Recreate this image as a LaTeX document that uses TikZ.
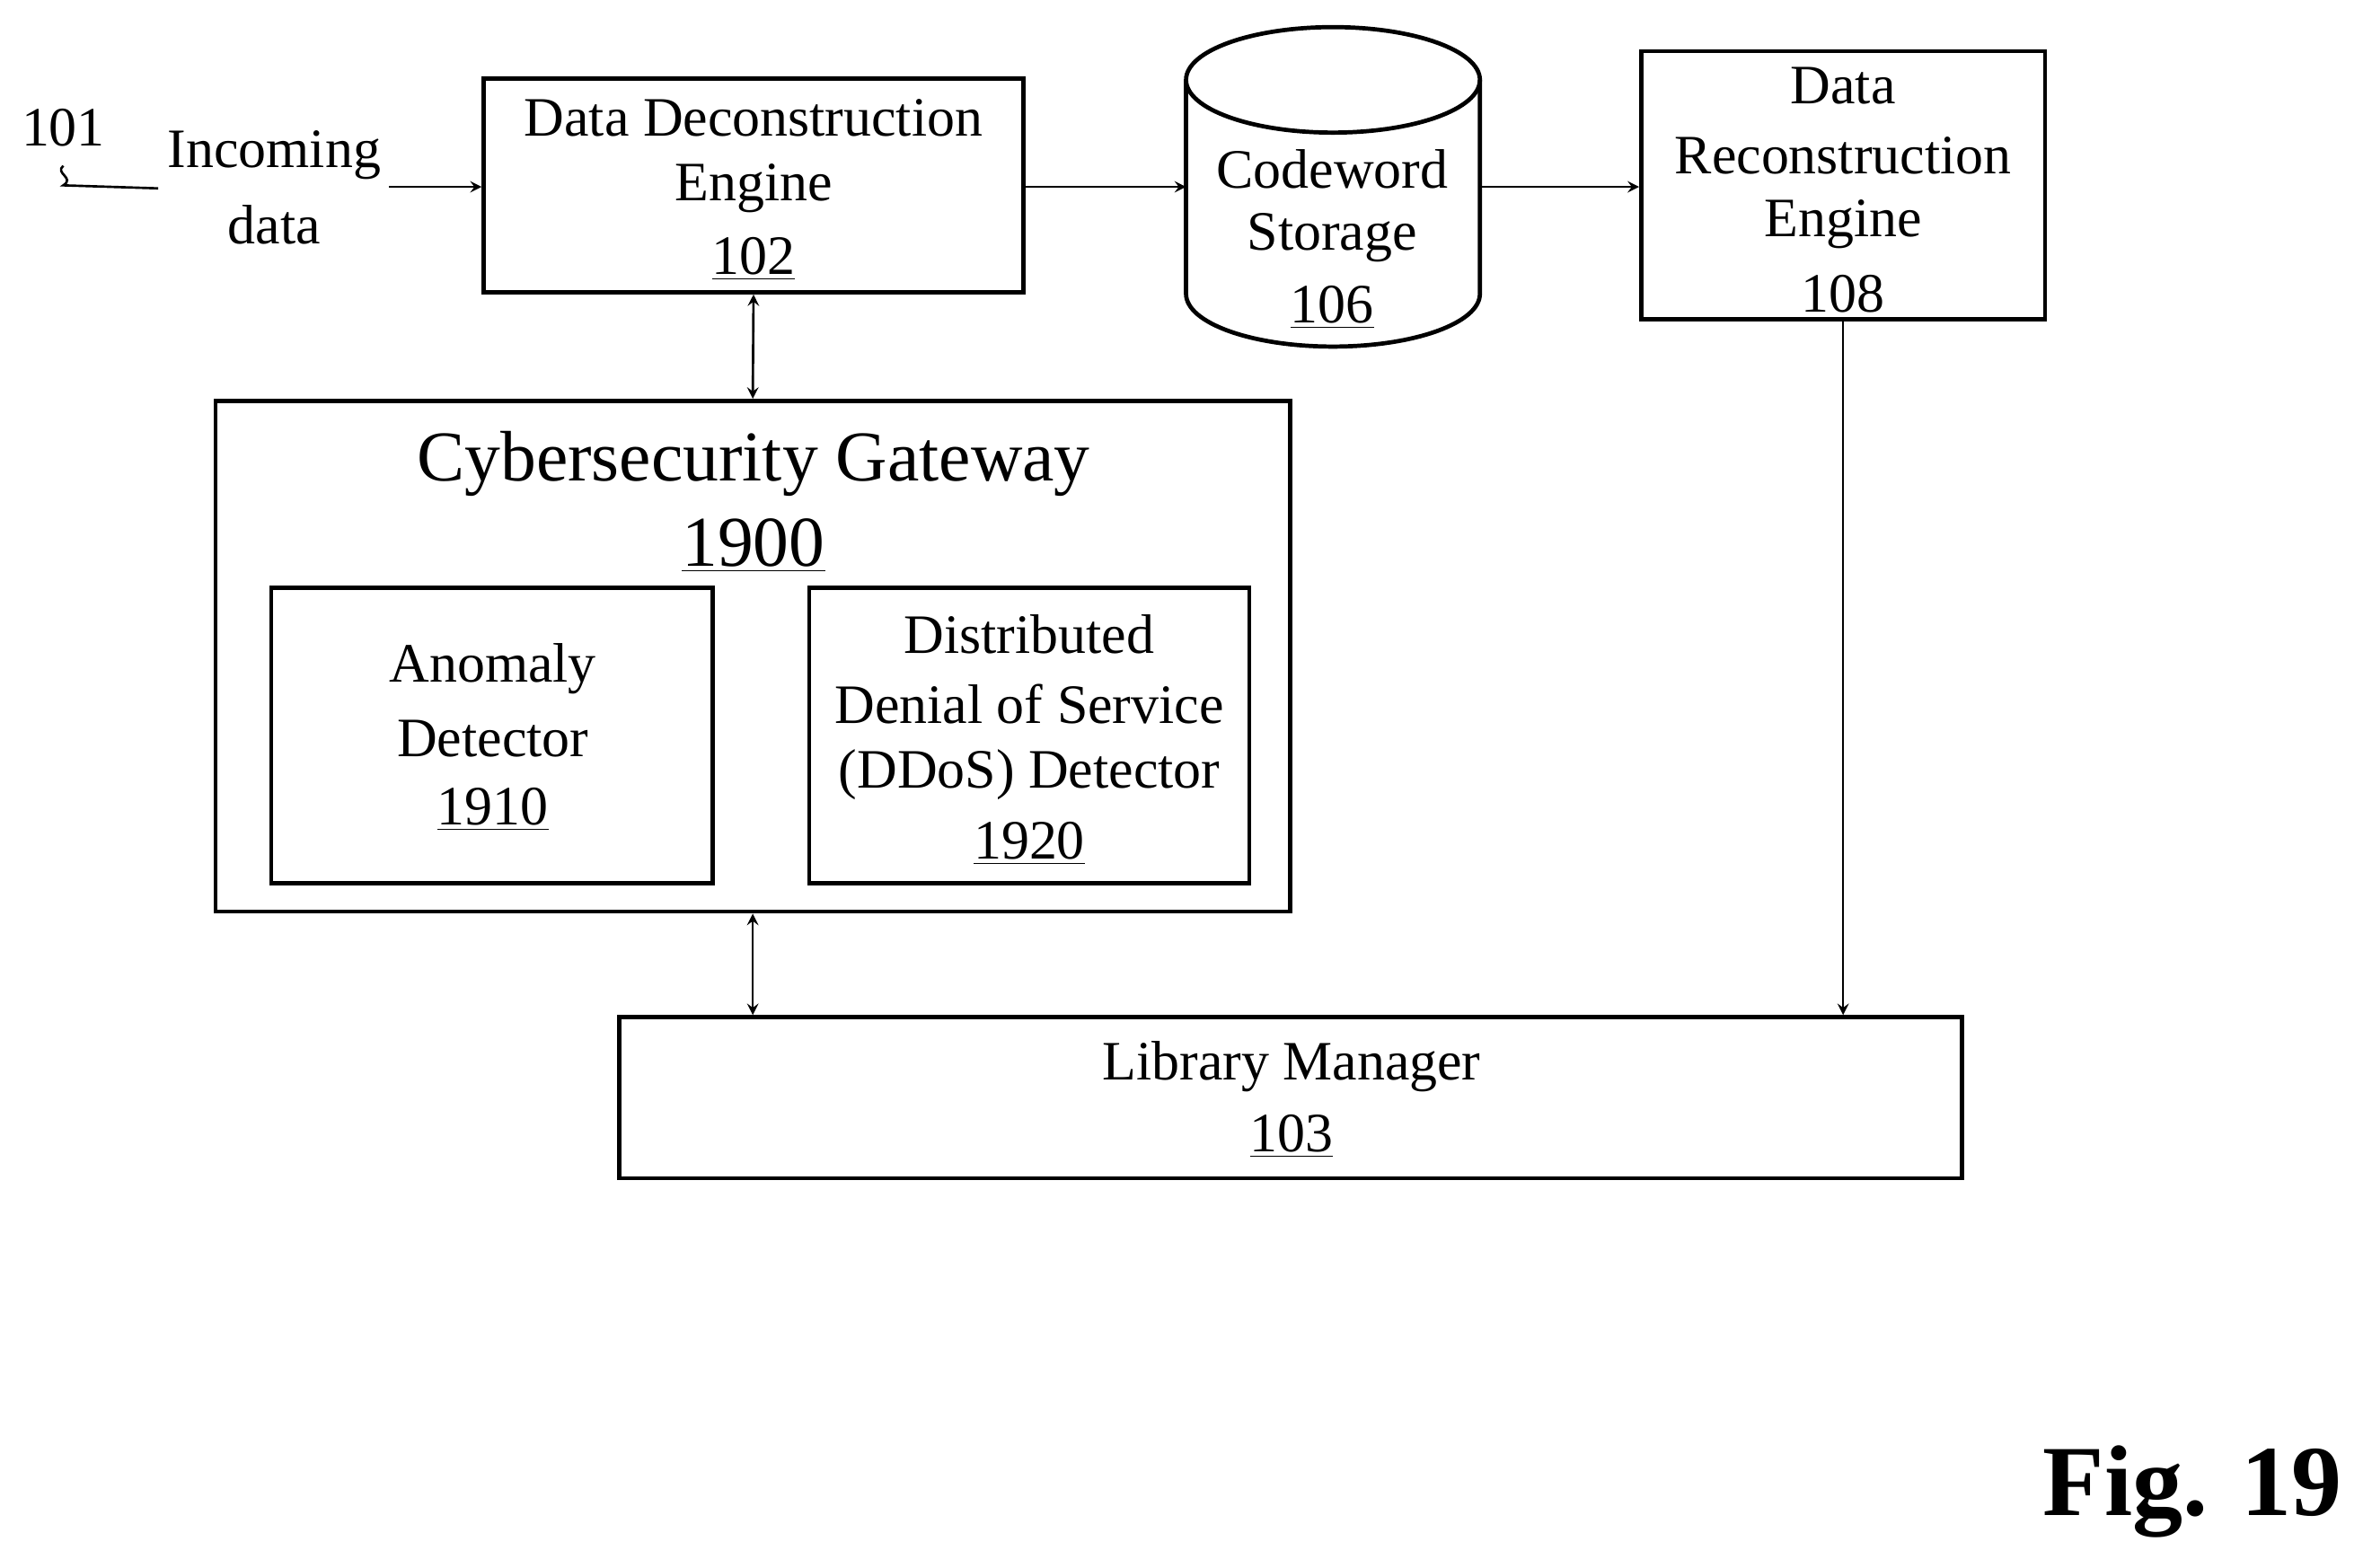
\documentclass[tikz,border=0pt]{standalone}
\usepackage{fontspec}
\setmainfont{Liberation Serif}
\begin{document}
\begin{tikzpicture}[x=0.02cm,y=-0.02cm,
 box/.style={draw,line width=1.6pt},
 txt/.style={font=\fontsize{21}{26}\selectfont,align=center,inner sep=0},
 arr/.style={-stealth,line width=0.9pt},
 darr/.style={stealth-stealth,line width=0.9pt}]
\useasboundingbox (0,0) rectangle (1568,1040);
% boxes
\node[box,minimum width=7.16cm,minimum height=2.84cm,inner sep=0] (dde) at (500,123) {};
\node[box,minimum width=5.36cm,minimum height=3.56cm,inner sep=0] (dre) at (1223,123) {};
\node[box,minimum width=14.26cm,minimum height=6.78cm,inner sep=0] (cg) at (499.5,435.5) {};
\node[box,minimum width=5.86cm,minimum height=3.92cm,inner sep=0] (ad) at (326.5,488) {};
\node[box,minimum width=5.84cm,minimum height=3.92cm,inner sep=0] (dd) at (683,488) {};
\node[box,minimum width=17.82cm,minimum height=2.14cm,inner sep=0] (lm) at (856.5,728.5) {};
% cylinder
\draw[box] (787,53) -- (787,195) arc[start angle=180,end angle=360,x radius=97.5,y radius=-35] -- (982,53);
\draw[box] (884.5,53) ellipse [x radius=97.5, y radius=-35];
\coordinate (cylL) at (787,124);
\coordinate (cylR) at (982,124);
% texts
\node[txt] at (500,78) {Data Deconstruction};
\node[txt] at (500,125) {Engine};
\node[txt] at (500,172) {\underline{102}};
\node[txt] at (884,112) {Codeword};
\node[txt] at (884,158) {Storage};
\node[txt] at (884,204) {\underline{106}};
\node[txt] at (1223,57) {Data};
\node[txt] at (1223,103) {Reconstruction};
\node[txt] at (1223,149) {Engine};
\node[txt] at (1223,195) {108};
\node[txt,font=\fontsize{27}{32}\selectfont] at (500,308) {Cybersecurity Gateway};
\node[txt,font=\fontsize{27}{32}\selectfont] at (500,362) {\underline{1900}};
\node[txt] at (327,444) {Anomaly};
\node[txt] at (327,490) {Detector};
\node[txt] at (327,537) {\underline{1910}};
\node[txt] at (683,421) {Distributed};
\node[txt] at (683,467) {Denial of Service};
\node[txt] at (683,514) {(DDoS) Detector};
\node[txt] at (683,560) {\underline{1920}};
\node[txt] at (857,708) {Library Manager};
\node[txt] at (857,754) {\underline{103}};
\node[txt] at (182,103) {Incoming};
\node[txt] at (182,149) {data};
\node[txt] at (42,85) {101};
\node[txt,font=\bfseries\fontsize{38}{44}\selectfont] at (1455,990) {Fig. 19};
% connectors
\coordinate (in1) at (258,124);
\draw[line width=0.9pt] (42,110) .. controls (36,115) and (50,118) .. (42,123) -- (105,125);
\draw[arr] (in1) -- (dde.west |- in1);
\draw[arr] (dde.east |- in1) -- (cylL);
\draw[arr] (cylR) -- (dre.west |- cylR);
\draw[darr] (dde.south) -- (cg.north);
\draw[darr] (cg.south) -- (lm.north -| cg.south);
\draw[arr] (dre.south) -- (lm.north -| dre.south);
\end{tikzpicture}
\end{document}
